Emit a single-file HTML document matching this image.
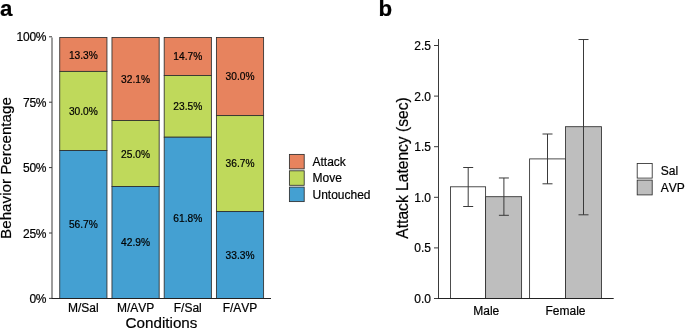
<!DOCTYPE html>
<html><head><meta charset="utf-8">
<style>
html,body{margin:0;padding:0;background:#fff;}
svg{display:block;will-change:transform;}
text{font-family:"Liberation Sans",sans-serif;fill:#000;font-kerning:none;stroke:#000;stroke-width:0.2;}
.t{font-size:12px;stroke-width:0.1;}
.v{font-size:10.2px;stroke:none;fill:#1c1c1c;}
.ax{font-size:15.2px;}
.pl{font-size:22.3px;font-weight:bold;fill:#000;}
.b{stroke:#2e2e2e;stroke-width:0.85;}
.l{stroke:#3a3a3a;stroke-width:1;fill:none;}
</style></head><body>
<svg width="685" height="329" viewBox="0 0 685 329">
<rect width="685" height="329" fill="#fff"/>
<text class="pl" x="0" y="16.3">a</text>
<g class="b">
<rect x="59.75" y="37.50" width="47.2" height="33.90" fill="#E7835E"/>
<rect x="59.75" y="71.40" width="47.2" height="79.11" fill="#BFD95B"/>
<rect x="59.75" y="150.51" width="47.2" height="147.99" fill="#44A0D2"/>
<rect x="111.97" y="37.50" width="47.2" height="83.00" fill="#E7835E"/>
<rect x="111.97" y="120.50" width="47.2" height="66.03" fill="#BFD95B"/>
<rect x="111.97" y="186.53" width="47.2" height="111.97" fill="#44A0D2"/>
<rect x="164.19" y="37.50" width="47.2" height="38.00" fill="#E7835E"/>
<rect x="164.19" y="75.50" width="47.2" height="61.70" fill="#BFD95B"/>
<rect x="164.19" y="137.20" width="47.2" height="161.30" fill="#44A0D2"/>
<rect x="216.41" y="37.50" width="47.2" height="78.10" fill="#E7835E"/>
<rect x="216.41" y="115.60" width="47.2" height="95.99" fill="#BFD95B"/>
<rect x="216.41" y="211.59" width="47.2" height="86.91" fill="#44A0D2"/>
</g>
<path class="l" d="M52 37.5V298.5"/>
<path class="l" d="M51.5 298.5H271" style="stroke:#222"/>
<path class="l" d="M49 298.40H52M49 233.00H52M49 167.60H52M49 102.20H52M49 36.80H52"/>
<g class="t" text-anchor="end">
<text x="46.3" y="41.45" style="letter-spacing:-0.22px">100%</text>
<text x="46.3" y="106.85" style="letter-spacing:-0.22px">75%</text>
<text x="46.3" y="172.25" style="letter-spacing:-0.22px">50%</text>
<text x="46.3" y="237.65" style="letter-spacing:-0.22px">25%</text>
<text x="46.3" y="303.05" style="letter-spacing:-0.22px">0%</text>
</g><g class="t" text-anchor="middle">
<text x="83.35" y="312.2">M/Sal</text>
<text x="135.57" y="312.2">M/AVP</text>
<text x="187.79" y="312.2">F/Sal</text>
<text x="240.01" y="312.2">F/AVP</text>
</g>
<text class="ax" text-anchor="middle" x="161.5" y="327.5">Conditions</text>
<text class="ax" text-anchor="middle" transform="translate(11.4,168) rotate(-90)">Behavior Percentage</text>
<g class="v" text-anchor="middle">
<text x="83.35" y="58.56">13.3%</text>
<text x="83.35" y="115.06">30.0%</text>
<text x="83.35" y="228.21">56.7%</text>
<text x="135.57" y="83.09">32.1%</text>
<text x="135.57" y="157.61">25.0%</text>
<text x="135.57" y="246.22">42.9%</text>
<text x="187.79" y="60.38">14.7%</text>
<text x="187.79" y="110.23">23.5%</text>
<text x="187.79" y="221.55">61.8%</text>
<text x="240.01" y="80.35">30.0%</text>
<text x="240.01" y="167.39">36.7%</text>
<text x="240.01" y="258.74">33.3%</text>
</g>
<g class="b">
<rect x="289.4" y="154.4" width="14.8" height="14.5" fill="#E7835E"/>
<rect x="289.4" y="170.8" width="14.8" height="14.5" fill="#BFD95B"/>
<rect x="289.4" y="187.1" width="14.8" height="14.5" fill="#44A0D2"/>
</g>
<g class="t">
<text x="312.5" y="165.7">Attack</text>
<text x="312.5" y="182.2">Move</text>
<text x="312.5" y="198.7">Untouched</text>
</g>
<text class="pl" x="378.6" y="16.2">b</text>
<g class="b">
<rect x="450.5" y="186.80" width="35.1" height="111.70" fill="#fff"/>
<rect x="485.6" y="196.70" width="36" height="101.80" fill="#BEBEBE"/>
<rect x="529.6" y="158.90" width="35.9" height="139.60" fill="#fff"/>
<rect x="565.5" y="126.70" width="36" height="171.80" fill="#BEBEBE"/>
</g>
<path class="l" d="M463.20 167.50H473.20M468.20 167.50V206.51M463.20 206.51H473.20"/>
<path class="l" d="M498.90 177.97H508.90M503.90 177.97V215.31M498.90 215.31H508.90"/>
<path class="l" d="M542.50 134.00H552.50M547.50 134.00V183.80M542.50 183.80H552.50"/>
<path class="l" d="M578.50 39.53H588.50M583.50 39.53V214.81M578.50 214.81H588.50"/>
<path class="l" d="M438.5 39V298.5"/>
<path class="l" d="M438 298.5H613.7" style="stroke:#222"/>
<path class="l" d="M434 298.50H438M434 247.90H438M434 197.30H438M434 146.70H438M434 96.10H438M434 45.50H438"/>
<g class="t" text-anchor="end">
<text x="431" y="49.90">2.5</text>
<text x="431" y="100.50">2.0</text>
<text x="431" y="151.10">1.5</text>
<text x="431" y="201.70">1.0</text>
<text x="431" y="252.30">0.5</text>
<text x="431" y="302.90">0.0</text>
</g>
<g class="t" text-anchor="middle">
<text x="486.25" y="315">Male</text>
<text x="565.5" y="315">Female</text>
</g>
<text class="ax" style="font-size:15.6px" text-anchor="middle" transform="translate(408.4,168) rotate(-90)">Attack Latency (sec)</text>
<g class="b">
<rect x="637.2" y="163.5" width="15" height="14.6" fill="#fff"/>
<rect x="637.2" y="180.1" width="15" height="14.8" fill="#BEBEBE"/>
</g>
<g class="t">
<text x="660.8" y="175.4">Sal</text>
<text x="660.8" y="191.7">AVP</text>
</g>
</svg>
</body></html>
